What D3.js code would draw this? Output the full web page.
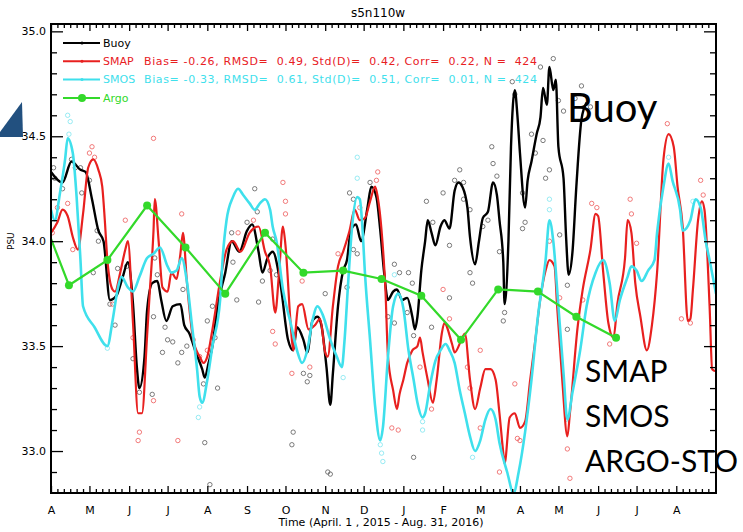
<!DOCTYPE html>
<html>
<head>
<meta charset="utf-8">
<script src="https://cdn.jsdelivr.net/npm/d3@7"></script>
<style>
body { margin: 0; background: #fff; }
text { font-family: "DejaVu Sans", sans-serif; }
</style>
</head>
<body>
<svg id="chart" width="743" height="532"></svg>
<script>
// days since April 1, 2015 -> PSU
const buoy = [
    [0, 34.33], [9, 34.28], [16, 34.38], [23, 34.34], [27, 34.33], [32, 34.2], [37, 34.05], [41, 34.0],
    [46, 33.72], [51, 33.74], [56, 33.83], [60, 33.9], [64, 33.7], [67, 33.4], [69, 33.3], [73, 33.45],
    [75, 33.67], [79, 33.8], [83, 33.81], [86, 33.72], [90, 33.62], [95, 33.69], [101, 33.7], [104, 33.6],
    [108, 33.56], [113, 33.47], [118, 33.39], [120, 33.35], [123, 33.42], [126, 33.5], [130, 33.69],
    [136, 33.85], [141, 34.0], [147, 33.95], [153, 34.05], [157, 34.08], [162, 33.95], [165, 33.85],
    [169, 33.92], [173, 33.95], [179, 33.8], [185, 33.53], [189, 33.48], [192, 33.59], [197, 33.53],
    [200, 33.47], [204, 33.62], [208, 33.64], [211, 33.6], [215, 33.4], [218, 33.22], [220, 33.37],
    [224, 33.69], [228, 33.86], [231, 33.91], [234, 34.05], [238, 34.08], [242, 34.0], [247, 34.16],
    [250, 34.26], [254, 34.21], [257, 34.05], [260, 33.85], [263, 33.72], [267, 33.76], [270, 33.77],
    [274, 33.72], [278, 33.73], [282, 33.64], [284, 33.58], [286, 33.64], [289, 33.86], [292, 34.0],
    [294, 34.1], [297, 34.04], [300, 33.98], [304, 34.07], [307, 34.1], [311, 34.06], [315, 34.24],
    [318, 34.28], [321, 34.26], [325, 34.16], [327, 34.02], [331, 33.89], [334, 34.0], [337, 34.11],
    [341, 34.14], [345, 34.28], [348, 34.22], [350, 34.1], [353, 33.9], [354, 33.7], [357, 34.0],
    [359, 34.45], [362, 34.72], [364, 34.6], [366, 34.42], [370, 34.16], [372, 34.29], [375, 34.38],
    [379, 34.51], [382, 34.59], [384, 34.73], [387, 34.65], [389, 34.83], [392, 34.72], [394, 34.77],
    [396, 34.45], [400, 34.3], [402, 34.02], [404, 33.84], [407, 33.95], [410, 34.26], [414, 34.58], [418, 34.66]
];

const smap = [
    [0, 34.04], [5, 34.09], [9, 34.15], [13, 34.12], [17, 34.02], [21, 33.96], [25, 34.13], [29, 34.35],
    [33, 34.39], [37, 34.34], [40, 34.26], [42, 34.1], [44, 33.91], [48, 33.77], [50, 33.76], [54, 33.85],
    [58, 33.96], [60, 34.0], [64, 33.61], [68, 33.18], [71, 33.18], [75, 33.55], [77, 33.75], [80, 34.05],
    [81, 34.2], [84, 34.0], [87, 33.78], [91, 33.76], [94, 33.85], [98, 33.82], [101, 33.94], [103, 34.04],
    [106, 33.81], [111, 33.53], [116, 33.45], [119, 33.42], [122, 33.45], [126, 33.58], [132, 33.81],
    [137, 33.96], [142, 34.0], [148, 33.95], [155, 34.04], [162, 34.07], [167, 33.95], [171, 33.88],
    [175, 33.66], [178, 33.85], [181, 34.07], [183, 33.98], [187, 33.61], [189, 33.48], [193, 33.69],
    [196, 33.7], [201, 33.58], [206, 33.6], [210, 33.63], [214, 33.47], [216, 33.45], [220, 33.69],
    [224, 33.88], [228, 33.95], [233, 34.05], [237, 34.15], [241, 34.1], [245, 34.11], [249, 34.19],
    [253, 34.26], [255, 34.21], [258, 34.05], [261, 33.77], [263, 33.45], [267, 33.29], [270, 33.2],
    [272, 33.27], [275, 33.34], [278, 33.42], [282, 33.48], [286, 33.5], [288, 33.54], [290, 33.47],
    [294, 33.34], [298, 33.23], [301, 33.34], [305, 33.56], [307, 33.61], [313, 33.51], [315, 33.47],
    [321, 33.54], [323, 33.56], [327, 33.34], [331, 33.2], [335, 33.3], [339, 33.39], [343, 33.39],
    [347, 33.34], [350, 33.18], [353, 32.99], [354, 32.94], [358, 33.16], [362, 33.18], [366, 33.11],
    [370, 33.14], [374, 33.34], [378, 33.53], [382, 33.73], [386, 33.86], [389, 33.91], [393, 33.88],
    [395, 33.69], [399, 33.34], [403, 33.07], [405, 33.18], [411, 33.59], [415, 33.77], [421, 33.96],
    [425, 34.13], [427, 34.12], [431, 33.85], [435, 33.61], [439, 33.54], [442, 33.7], [448, 33.92],
    [450, 34.1], [453, 34.04], [456, 33.8], [460, 33.64], [465, 33.48], [469, 33.6], [473, 33.85],
    [478, 34.39], [482, 34.51], [486, 34.45], [489, 34.26], [493, 34.07], [497, 33.62], [499, 33.63],
    [501, 33.77], [505, 34.1], [508, 34.19], [510, 34.15], [514, 33.69], [516, 33.39], [519, 33.38]
];

const smos = [
    [0, 34.15], [3, 34.1], [7, 34.23], [11, 34.39], [13, 34.49], [17, 34.42], [20, 34.21], [23, 33.91],
    [25, 33.69], [34, 33.59], [44, 33.5], [48, 33.62], [52, 33.77], [55, 33.83], [60, 33.78], [64, 33.76],
    [69, 33.83], [75, 33.92], [80, 33.94], [85, 33.97], [91, 33.88], [94, 33.85], [98, 33.86], [102, 33.92],
    [106, 33.81], [110, 33.6], [114, 33.39], [116, 33.26], [118, 33.23], [122, 33.34], [126, 33.5],
    [132, 33.72], [134, 33.92], [137, 34.1], [142, 34.21], [146, 34.25], [150, 34.22], [155, 34.18],
    [159, 34.15], [163, 34.18], [167, 34.2], [171, 34.15], [173, 34.07], [176, 34.0], [181, 33.77],
    [187, 33.61], [192, 33.48], [196, 33.42], [200, 33.48], [204, 33.62], [208, 33.69], [212, 33.65],
    [218, 33.53], [223, 33.45], [227, 33.4], [229, 33.52], [232, 33.81], [235, 34.07], [239, 34.21],
    [241, 34.2], [243, 34.07], [245, 33.85], [249, 33.53], [253, 33.21], [257, 33.05], [259, 33.11],
    [263, 33.45], [267, 33.69], [271, 33.75], [275, 33.68], [279, 33.48], [283, 33.34], [286, 33.23],
    [290, 33.16], [292, 33.18], [296, 33.32], [300, 33.43], [304, 33.48], [308, 33.51], [311, 33.48],
    [315, 33.42], [319, 33.29], [323, 33.18], [327, 33.07], [331, 33.0], [335, 33.05], [339, 33.15],
    [343, 33.2], [347, 33.15], [350, 33.04], [356, 32.9], [361, 32.8], [365, 32.9], [370, 33.09],
    [375, 33.34], [380, 33.64], [386, 33.91], [389, 34.1], [392, 34.0], [396, 33.69], [400, 33.37],
    [403, 33.15], [407, 33.28], [413, 33.48], [418, 33.69], [425, 33.85], [431, 33.91], [436, 33.8],
    [440, 33.62], [444, 33.72], [450, 33.83], [453, 33.88], [457, 33.86], [461, 33.81], [466, 33.86],
    [471, 33.91], [473, 34.04], [478, 34.26], [482, 34.37], [485, 34.29], [491, 34.15], [493, 34.05],
    [499, 34.1], [503, 34.2], [507, 34.16], [511, 34.0], [514, 33.91], [519, 33.75]
];

const argoDates = ["2015-03-15", "2015-04-15", "2015-05-15", "2015-06-15", "2015-07-15", "2015-08-15",
    "2015-09-15", "2015-10-15", "2015-11-15", "2015-12-15", "2016-01-15", "2016-02-15",
    "2016-03-15", "2016-04-15", "2016-05-15", "2016-06-15"];
const argoPsu = [34.28, 33.79, 33.91, 34.17, 33.97, 33.75, 34.04, 33.85, 33.86, 33.82, 33.74, 33.53,
    33.77, 33.76, 33.64, 33.54];

// individual daily retrievals (circles)
const buoyDots = [
    [2, 34.35], [3, 34.3], [9, 34.25], [16, 34.39], [19, 34.35], [23, 34.35], [24, 34.23], [30, 34.29],
    [36, 34.05], [37, 34.0], [33, 33.85], [46, 33.7], [50, 33.6], [52, 33.87], [59, 33.88], [64, 33.44],
    [69, 33.28], [79, 33.27], [80, 33.64], [81, 33.92], [83, 33.84], [87, 33.47], [89, 33.59], [91, 33.53],
    [95, 33.52], [99, 33.42], [102, 33.47], [106, 33.5], [103, 33.77], [119, 33.32], [120, 33.04],
    [124, 32.84], [122, 33.62], [126, 33.69], [130, 33.3], [128, 33.54], [142, 33.9], [145, 33.72],
    [141, 34.04], [153, 34.09], [159, 34.25], [161, 34.14], [162, 33.71], [165, 33.81], [171, 33.86],
    [173, 34.01], [176, 33.84], [189, 33.09], [188, 33.03], [197, 33.37], [202, 33.36], [200, 33.33],
    [214, 33.75], [216, 32.9], [218, 32.89], [231, 33.78], [233, 34.23], [236, 34.2], [236, 33.96],
    [239, 33.94], [249, 34.28], [268, 33.89], [272, 33.85], [279, 33.85], [282, 33.8], [263, 33.64],
    [268, 33.61], [278, 33.66], [283, 33.55], [283, 32.97], [293, 34.19], [298, 34.09], [297, 33.59],
    [306, 34.23], [315, 34.29], [319, 34.34], [322, 34.28], [322, 34.2], [311, 33.98], [311, 33.73],
    [327, 34.15], [327, 33.85], [329, 33.8], [337, 34.07], [341, 34.1], [344, 34.45], [345, 34.37],
    [348, 34.31], [350, 33.95], [353, 33.62], [354, 33.66], [360, 34.76], [362, 34.7], [368, 34.23],
    [370, 34.09], [368, 34.06], [375, 34.51], [378, 34.42], [382, 34.83], [384, 34.48], [386, 34.3],
    [389, 34.34], [392, 34.87], [396, 34.67], [400, 34.62], [397, 34.03], [403, 33.79], [403, 33.58],
    [411, 33.64], [409, 34.68], [414, 34.74], [421, 34.64]
];

const smapDots = [
    [1, 34.04], [5, 34.16], [13, 34.18], [17, 33.96], [30, 34.42], [32, 34.45], [34, 34.4], [80, 34.49],
    [58, 34.1], [48, 33.7], [64, 33.54], [69, 33.09], [68, 33.05], [80, 33.24], [102, 34.13], [111, 33.53],
    [116, 33.45], [122, 33.48], [146, 34.04], [158, 34.1], [173, 33.57], [175, 33.51], [181, 34.28],
    [183, 34.19], [183, 34.13], [188, 33.37], [196, 33.81], [202, 33.4], [224, 33.94], [241, 34.16],
    [254, 34.29], [255, 34.33], [266, 33.11], [271, 33.1], [288, 33.4], [297, 33.2], [306, 33.77],
    [311, 33.63], [325, 33.4], [327, 33.3], [335, 33.48], [335, 33.11], [350, 32.9], [362, 33.32],
    [364, 33.06], [366, 33.05], [389, 34.0], [397, 33.73], [403, 33.01], [405, 32.87], [415, 33.72],
    [422, 34.18], [426, 34.16], [436, 33.51], [452, 34.2], [453, 34.13], [457, 33.99], [481, 34.56],
    [492, 33.63], [499, 33.61], [507, 34.29], [509, 34.22], [99, 33.05]
];

const smosDots = [
    [13, 34.6], [14, 34.51], [15, 34.57], [44, 33.49], [115, 33.16], [116, 33.21], [239, 34.4],
    [239, 34.3], [228, 33.35], [257, 33.03], [258, 32.99], [259, 32.95], [268, 33.84], [290, 33.14],
    [290, 33.1], [329, 32.97], [389, 34.2], [389, 34.15], [482, 34.4], [501, 34.19], [431, 33.9], [403, 33.15]
];

const monthLabels = ["A", "M", "J", "J", "A", "S", "O", "N", "D", "J", "F", "M", "A", "M", "J", "J", "A"];
const yMajor = [33.0, 33.5, 34.0, 34.5, 35.0];
const yMinor = [32.9, 33.1, 33.2, 33.3, 33.4, 33.6, 33.7, 33.8, 33.9, 34.1, 34.2, 34.3, 34.4, 34.6, 34.7, 34.8, 34.9];

const legendItems = [
    { name: "Buoy", colour: "#000000", stats: "" },
    { name: "SMAP", colour: "#e8201f", stats: "Bias= -0.26, RMSD=  0.49, Std(D)=  0.42, Corr=  0.22, N =  424" },
    { name: "SMOS", colour: "#3fe0ec", stats: "Bias= -0.33, RMSD=  0.61, Std(D)=  0.51, Corr=  0.01, N =  424" },
    { name: "Argo", colour: "#33d92a", stats: "" }
];

const notes = [
    { text: "Buoy", x: 567, y: 122, size: 40 },
    { text: "SMAP", x: 585, y: 382, size: 30 },
    { text: "SMOS", x: 585, y: 427, size: 30 },
    { text: "ARGO-STO", x: 585, y: 472, size: 30 }
];

const start = new Date(2015, 3, 1);
const end = new Date(2016, 8, 1);
const toDate = d => d3.timeDay.offset(start, d);
const parseDate = d3.timeParse("%Y-%m-%d");

const margin = { top: 24, right: 27, bottom: 39, left: 51 };
const width = 743;
const height = 532;

const svg = d3.select("#chart");

const x = d3.scaleTime().domain([start, end]).range([margin.left, width - margin.right]);
const y = d3.scaleLinear().domain([32.8, 35.035]).range([height - margin.bottom, margin.top]);

svg.append("clipPath").attr("id", "plot-clip")
    .append("rect")
    .attr("x", margin.left).attr("y", margin.top)
    .attr("width", width - margin.left - margin.right)
    .attr("height", height - margin.top - margin.bottom);

const plot = svg.append("g").attr("clip-path", "url(#plot-clip)");

// scattered daily points
const dotSets = [
    { data: buoyDots, colour: "#5a5a5a" },
    { data: smapDots, colour: "#ee5a5a" },
    { data: smosDots, colour: "#7fe6f0" }
];
dotSets.forEach(set => {
    plot.append("g").selectAll("circle")
        .data(set.data)
        .join("circle")
        .attr("cx", d => x(toDate(d[0])))
        .attr("cy", d => y(d[1]))
        .attr("r", 2.2)
        .attr("fill", "none")
        .attr("stroke", set.colour)
        .attr("stroke-width", 0.8);
});

const line = d3.line()
    .x(d => x(toDate(d[0])))
    .y(d => y(d[1]))
    .curve(d3.curveMonotoneX);

const series = [
    { data: buoy, colour: "#000000", width: 2.4 },
    { data: smap, colour: "#e8201f", width: 2.2 },
    { data: smos, colour: "#3fe0ec", width: 2.6 }
];
plot.selectAll(".series-line")
    .data(series)
    .join("path")
    .attr("class", "series-line")
    .attr("fill", "none")
    .attr("stroke", d => d.colour)
    .attr("stroke-width", d => d.width)
    .attr("stroke-linejoin", "round")
    .attr("d", d => line(d.data));

const argo = argoDates.map((d, i) => ({ date: parseDate(d), psu: argoPsu[i] }));
plot.append("path")
    .datum(argo)
    .attr("fill", "none")
    .attr("stroke", "#33d92a")
    .attr("stroke-width", 2.2)
    .attr("d", d3.line().x(d => x(d.date)).y(d => y(d.psu)));
plot.selectAll(".argo-dot")
    .data(argo)
    .join("circle")
    .attr("class", "argo-dot")
    .attr("cx", d => x(d.date))
    .attr("cy", d => y(d.psu))
    .attr("r", 4)
    .attr("fill", "#33d92a");

// axes
const bottomY = height - margin.bottom;
const rightX = width - margin.right;
const monthTicks = d3.timeMonth.range(start, end);
const minorDays = [];
monthTicks.forEach(m => [5, 10, 15, 20, 25].forEach(k => minorDays.push(d3.timeDay.offset(m, k))));

const styleAxis = g => {
    g.select(".domain").remove();
    g.selectAll("line").attr("stroke", "#000").attr("stroke-width", 1.3);
    g.selectAll("text").attr("font-size", 11).attr("fill", "#000");
};

svg.append("g")
    .attr("transform", `translate(0,${bottomY})`)
    .call(d3.axisBottom(x).tickValues(monthTicks).tickSize(-7).tickPadding(13)
        .tickFormat((d, i) => monthLabels[i]))
    .call(styleAxis);
svg.append("g")
    .attr("transform", `translate(0,${bottomY})`)
    .call(d3.axisBottom(x).tickValues(minorDays).tickSize(-4).tickFormat(""))
    .call(styleAxis);
svg.append("g")
    .attr("transform", `translate(0,${margin.top})`)
    .call(d3.axisTop(x).tickValues(monthTicks).tickSize(-7).tickFormat(""))
    .call(styleAxis);
svg.append("g")
    .attr("transform", `translate(0,${margin.top})`)
    .call(d3.axisTop(x).tickValues(minorDays).tickSize(-4).tickFormat(""))
    .call(styleAxis);

svg.append("g")
    .attr("transform", `translate(${margin.left},0)`)
    .call(d3.axisLeft(y).tickValues(yMajor).tickSize(-12).tickPadding(5).tickFormat(d3.format(".1f")))
    .call(styleAxis);
svg.append("g")
    .attr("transform", `translate(${margin.left},0)`)
    .call(d3.axisLeft(y).tickValues(yMinor).tickSize(-6).tickFormat(""))
    .call(styleAxis);
svg.append("g")
    .attr("transform", `translate(${rightX},0)`)
    .call(d3.axisRight(y).tickValues(yMajor).tickSize(-12).tickFormat(""))
    .call(styleAxis);
svg.append("g")
    .attr("transform", `translate(${rightX},0)`)
    .call(d3.axisRight(y).tickValues(yMinor).tickSize(-6).tickFormat(""))
    .call(styleAxis);

svg.append("rect")
    .attr("x", margin.left).attr("y", margin.top)
    .attr("width", rightX - margin.left).attr("height", bottomY - margin.top)
    .attr("fill", "none").attr("stroke", "#000").attr("stroke-width", 2);

// titles
svg.append("text")
    .attr("x", 378).attr("y", 17)
    .attr("text-anchor", "middle")
    .attr("font-size", 12)
    .text("s5n110w");
svg.append("text")
    .attr("x", 381).attr("y", 526)
    .attr("text-anchor", "middle")
    .attr("font-size", 11)
    .text("Time (April. 1 , 2015 - Aug. 31, 2016)");
svg.append("text")
    .attr("transform", `translate(14,${y(34.0)})rotate(-90)`)
    .attr("text-anchor", "middle")
    .attr("font-size", 9)
    .text("PSU");

// legend
const legend = svg.append("g");
legend.selectAll(".legend-line")
    .data(legendItems)
    .join("line")
    .attr("class", "legend-line")
    .attr("x1", 63).attr("x2", 100)
    .attr("y1", (_, i) => 43 + i * 18.3).attr("y2", (_, i) => 43 + i * 18.3)
    .attr("stroke", d => d.colour)
    .attr("stroke-width", 2);
legend.selectAll(".legend-mark")
    .data(legendItems)
    .join("circle")
    .attr("class", "legend-mark")
    .attr("cx", 82)
    .attr("cy", (_, i) => 43 + i * 18.3)
    .attr("r", d => d.name === "Argo" ? 4 : 1.5)
    .attr("fill", d => d.colour);
legend.selectAll(".legend-name")
    .data(legendItems)
    .join("text")
    .attr("class", "legend-name")
    .attr("x", 103)
    .attr("y", (_, i) => 43 + i * 18.3)
    .attr("dy", "0.35em")
    .attr("font-size", 11)
    .attr("fill", d => d.colour)
    .text(d => d.name);
legend.selectAll(".legend-stats")
    .data(legendItems.filter(d => d.stats))
    .join("text")
    .attr("class", "legend-stats")
    .attr("x", 144)
    .attr("y", (_, i) => 43 + (i + 1) * 18.3)
    .attr("dy", "0.35em")
    .attr("font-size", 11)
    .attr("fill", d => d.colour)
    .attr("textLength", 393)
    .attr("lengthAdjust", "spacing")
    .style("white-space", "pre")
    .text(d => d.stats);

// overlaid slide annotations
svg.selectAll(".note")
    .data(notes)
    .join("text")
    .attr("class", "note")
    .attr("x", d => d.x)
    .attr("y", d => d.y)
    .attr("font-size", d => d.size)
    .style("font-family", "Lato, 'Open Sans', sans-serif")
    .attr("fill", "#000")
    .text(d => d.text);

svg.append("path")
    .attr("d", "M22,102L23,137L0,137L0,132Z")
    .attr("fill", "#22507f");
</script>
</body>
</html>
